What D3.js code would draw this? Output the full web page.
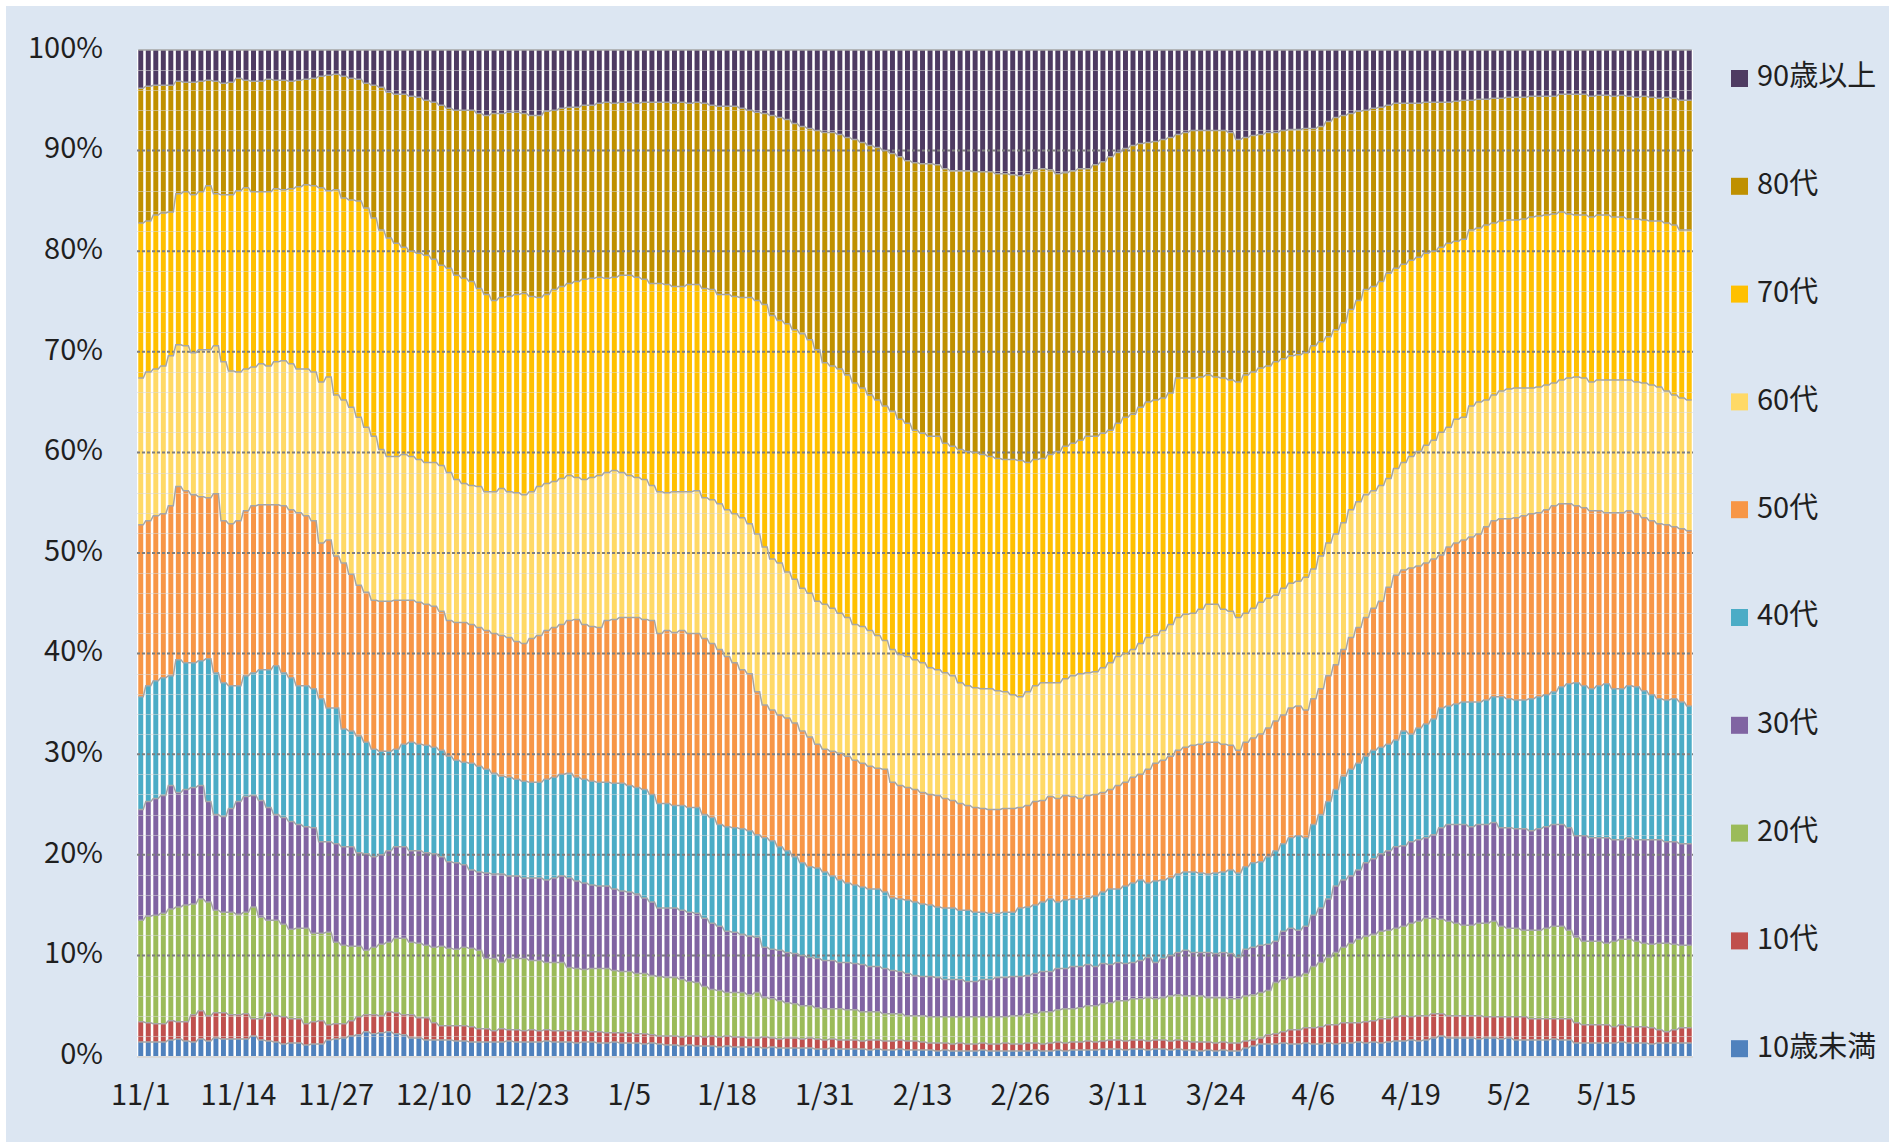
<!DOCTYPE html>
<html lang="ja">
<head>
<meta charset="utf-8">
<script src="https://cdn.jsdelivr.net/npm/d3@7"></script>
<style>
  html, body { margin: 0; padding: 0; background: #fff; }
  svg { display: block; }
  text { font-family: "Noto Sans CJK JP", "Noto Sans", sans-serif; fill: #1f1f1f; }
</style>
</head>
<body>
<div id="chart"></div>
<script>
var ageGroups = ['10歳未満', '10代', '20代', '30代', '40代', '50代', '60代', '70代', '80代', '90歳以上'];
var groupColors = ['#4f81bd', '#c0504d', '#9bbb59', '#8064a2', '#4bacc6', '#f79646', '#ffd966', '#ffc000', '#bf9000', '#4e3b62'];
var firstDay = new Date(2020, 10, 1);
var tickLabels = ['11/1', '11/14', '11/27', '12/10', '12/23', '1/5', '1/18', '1/31', '2/13', '2/26', '3/11', '3/24', '4/6', '4/19', '5/2', '5/15'];

// upper edge of each age band (cumulative %), one value per day
var topUnder10 = [
  1.4,1.4,1.4,1.4,1.6,1.7,1.5,1.4,1.7,1.5,1.8,1.7,1.7,1.7,1.7,2.0,1.6,1.5,1.4,1.2,1.3,1.3,1.1,1.2,1.2,1.6,1.7,1.8,2.0,2.1,2.4,2.2,2.3,2.4,2.2,
  2.1,1.8,1.8,1.6,1.6,1.6,1.6,1.5,1.5,1.4,1.4,1.4,1.4,1.4,1.5,1.4,1.4,1.4,1.4,1.5,1.4,1.4,1.4,1.3,1.4,1.4,1.3,1.3,1.4,1.3,1.3,1.3,1.2,1.3,1.2,
  1.1,1.1,1.0,1.1,1.0,1.0,1.0,0.9,1.0,0.9,0.9,0.9,0.9,0.8,0.9,0.8,0.8,0.8,0.8,0.8,0.7,0.7,0.8,0.7,0.7,0.7,0.7,0.6,0.7,0.6,0.6,0.7,0.6,0.6,
  0.6,0.6,0.5,0.6,0.5,0.5,0.5,0.5,0.6,0.5,0.5,0.5,0.5,0.5,0.5,0.6,0.5,0.5,0.6,0.5,0.6,0.6,0.6,0.6,0.7,0.7,0.7,0.6,0.7,0.7,0.6,0.7,0.7,0.6,0.7,
  0.6,0.6,0.5,0.6,0.5,0.6,0.5,0.5,0.8,1.0,1.2,1.2,1.2,1.3,1.2,1.2,1.3,1.2,1.2,1.3,1.2,1.3,1.3,1.4,1.3,1.4,1.3,1.4,1.5,1.5,1.6,1.5,1.6,1.8,
  2.0,1.8,1.8,1.8,1.8,1.7,1.8,1.8,1.7,1.8,1.6,1.6,1.6,1.6,1.6,1.7,1.6,1.6,1.3,1.3,1.3,1.3,1.3,1.3,1.4,1.3,1.3,1.3,1.2,1.3,1.3,1.3,1.3,1.3
];
var top10s = [
  3.4,3.3,3.2,3.2,3.5,3.4,3.4,4.1,4.5,4.0,4.3,4.3,4.1,4.1,4.2,3.7,3.7,4.3,4.0,3.9,3.7,3.7,3.2,3.4,3.5,3.1,3.2,3.2,3.5,3.9,4.1,4.1,4.0,4.4,4.3,
  4.1,4.1,3.8,3.8,3.3,3.0,3.0,3.0,3.0,2.9,2.7,2.7,2.5,2.7,2.6,2.6,2.5,2.6,2.5,2.6,2.5,2.5,2.5,2.5,2.5,2.4,2.4,2.3,2.3,2.3,2.3,2.2,2.2,2.1,2.0,
  2.0,2.0,1.9,2.0,2.0,1.9,2.0,1.9,2.0,1.9,1.9,1.8,1.8,1.9,1.8,1.7,1.8,1.8,1.7,1.8,1.7,1.6,1.7,1.6,1.6,1.6,1.5,1.6,1.6,1.5,1.5,1.6,1.5,1.5,
  1.4,1.3,1.3,1.3,1.2,1.3,1.2,1.2,1.3,1.2,1.2,1.3,1.2,1.2,1.3,1.3,1.2,1.3,1.4,1.3,1.4,1.4,1.5,1.4,1.5,1.6,1.6,1.5,1.6,1.6,1.5,1.6,1.6,1.5,1.6,
  1.5,1.4,1.4,1.4,1.3,1.4,1.3,1.3,1.5,1.6,1.8,2.1,2.2,2.4,2.6,2.6,2.8,2.8,2.9,3.1,3.1,3.3,3.3,3.3,3.4,3.5,3.7,3.7,3.9,4.0,3.9,4.0,4.0,4.2,
  4.2,4.0,4.0,4.0,4.0,4.0,3.9,3.9,3.9,3.9,3.9,3.9,3.7,3.7,3.7,3.7,3.7,3.7,3.3,3.1,3.1,3.1,3.1,2.9,3.1,2.9,2.9,2.9,2.8,2.6,2.4,2.6,2.8,2.8
];
var top20s = [
  13.5,13.9,14.0,14.2,14.6,14.8,15.0,15.1,15.6,15.3,14.5,14.3,14.3,14.1,14.3,14.8,13.8,13.5,13.5,13.1,12.6,12.7,12.7,12.2,12.2,12.3,11.3,11.0,10.9,10.9,10.5,10.8,11.1,11.3,11.7,
  11.7,11.3,11.2,11.0,10.8,10.9,10.7,10.6,10.8,10.7,10.5,9.7,9.7,9.3,9.7,9.7,9.7,9.5,9.5,9.3,9.3,9.3,8.8,8.7,8.6,8.7,8.7,8.7,8.5,8.4,8.4,8.2,8.2,8.0,7.9,
  7.8,7.8,7.6,7.4,7.3,6.9,6.6,6.5,6.3,6.3,6.3,6.1,6.3,5.8,5.7,5.5,5.3,5.2,5.0,5.0,4.8,4.7,4.7,4.7,4.6,4.6,4.4,4.4,4.4,4.2,4.2,4.2,4.0,4.0,
  4.0,3.9,3.9,3.9,3.9,3.9,3.9,3.9,3.9,3.9,3.9,3.9,4.0,4.0,4.2,4.2,4.4,4.4,4.6,4.7,4.7,4.8,5.0,5.0,5.2,5.3,5.5,5.5,5.7,5.7,5.8,5.7,5.8,6.0,6.1,
  6.0,6.0,6.0,5.8,5.8,5.8,5.7,5.7,6.0,6.1,6.3,6.5,7.3,7.6,7.8,7.9,8.2,8.9,9.3,9.8,10.3,10.8,11.2,11.6,11.9,12.1,12.4,12.5,12.7,12.9,13.2,13.4,13.7,13.7,
  13.6,13.4,13.2,13.0,13.0,13.2,13.2,13.4,12.9,12.7,12.7,12.5,12.5,12.5,12.7,12.9,12.9,12.5,11.8,11.4,11.4,11.4,11.2,11.4,11.6,11.6,11.4,11.2,11.1,11.2,11.2,11.1,11.0,11.0
];
var top30s = [
  24.5,25.3,25.6,25.9,26.9,26.2,26.5,26.7,26.9,25.3,24.0,23.8,24.6,25.3,25.8,25.9,25.4,24.7,24.0,23.7,23.3,23.0,22.8,22.7,21.3,21.3,21.1,20.8,20.8,20.2,20.1,19.8,20.0,20.4,20.8,
  20.8,20.4,20.4,20.2,20.1,19.8,19.3,19.2,19.0,18.5,18.3,18.2,18.1,18.1,17.9,17.9,17.7,17.7,17.7,17.5,17.7,17.9,17.7,17.4,17.2,17.0,16.9,16.9,16.6,16.4,16.3,16.1,15.7,15.3,14.7,
  14.7,14.7,14.5,14.3,14.2,13.7,13.2,12.9,12.4,12.3,12.1,11.9,11.8,10.8,10.6,10.5,10.3,10.2,10.0,9.8,9.7,9.5,9.5,9.3,9.3,9.2,9.1,8.9,8.9,8.7,8.5,8.4,8.2,8.0,
  7.9,7.9,7.8,7.6,7.6,7.6,7.4,7.4,7.6,7.6,7.8,7.8,7.9,7.9,8.0,8.2,8.4,8.4,8.7,8.7,8.9,8.9,9.1,8.9,9.2,9.1,9.3,9.2,9.3,9.5,9.8,9.3,9.7,10.0,10.3,
  10.5,10.3,10.3,10.3,10.2,10.3,10.2,9.8,10.6,10.8,11.0,11.1,11.4,12.4,12.7,12.5,12.9,14.0,14.7,15.6,16.9,17.5,17.9,18.5,19.2,19.6,20.1,20.4,20.8,20.9,21.3,21.5,21.7,22.0,
  22.7,23.0,23.0,23.0,22.8,23.0,23.0,23.2,22.7,22.7,22.6,22.6,22.4,22.6,22.8,23.0,23.0,22.7,21.9,21.9,21.7,21.7,21.7,21.5,21.5,21.7,21.5,21.5,21.5,21.5,21.3,21.3,21.1,21.1
];
var top40s = [
  35.7,36.8,37.3,37.6,37.8,39.4,39.1,39.1,39.3,39.5,38.1,37.1,36.8,36.8,37.8,38.1,38.4,38.4,38.8,38.1,37.6,36.8,36.8,36.5,35.5,34.6,34.6,32.5,32.3,31.8,31.2,30.5,30.3,30.3,30.5,
  31.0,31.2,31.0,30.9,30.7,30.4,29.8,29.4,29.2,29.1,28.8,28.5,28.1,27.8,27.7,27.5,27.3,27.2,27.2,27.5,27.7,28.0,28.1,27.7,27.5,27.3,27.2,27.2,27.1,27.1,26.9,26.7,26.5,26.0,25.1,
  25.1,24.9,24.9,24.7,24.7,24.0,23.7,23.0,22.8,22.7,22.6,22.4,22.0,21.7,21.4,20.8,20.4,19.8,19.2,18.8,18.7,18.3,17.9,17.5,17.2,17.0,16.8,16.6,16.6,16.3,15.7,15.6,15.5,15.3,
  15.1,15.0,14.8,14.7,14.7,14.5,14.5,14.3,14.3,14.2,14.2,14.3,14.3,14.7,14.8,15.0,15.3,15.6,15.3,15.5,15.6,15.6,15.7,15.9,16.3,16.6,16.6,16.9,17.2,17.5,17.2,17.4,17.5,17.7,18.1,
  18.3,18.3,18.2,18.1,18.2,18.3,18.5,18.2,18.8,19.2,19.3,19.8,20.4,21.1,21.7,21.9,21.7,23.0,24.0,25.3,26.5,27.8,28.5,29.1,29.8,30.4,30.7,31.0,31.4,32.3,32.0,32.6,33.0,33.5,
  34.6,34.8,35.0,35.2,35.2,35.2,35.4,35.7,35.7,35.5,35.4,35.4,35.5,35.7,35.9,36.2,36.7,37.0,37.1,36.8,36.5,36.8,37.0,36.5,36.5,36.8,36.7,36.3,35.9,35.5,35.4,35.5,35.2,34.8
];
var top50s = [
  52.8,53.2,53.7,53.9,54.7,56.6,56.2,55.8,55.6,55.5,55.9,53.2,52.9,53.2,54.2,54.7,54.8,54.8,54.8,54.7,54.3,54.0,53.7,53.2,51.0,51.3,49.7,49.0,47.9,46.8,46.1,45.3,45.2,45.2,45.3,
  45.3,45.3,45.1,44.9,44.7,44.2,43.3,43.1,43.1,42.9,42.6,42.3,42.0,41.8,41.6,41.2,41.0,41.5,41.8,42.3,42.6,42.9,43.3,43.4,42.9,42.7,42.6,43.3,43.4,43.6,43.6,43.6,43.4,43.3,42.0,
  42.3,42.1,42.3,42.0,42.0,41.5,41.0,40.4,39.7,39.1,38.4,38.0,36.2,34.9,34.4,33.9,33.6,33.1,32.3,31.7,31.0,30.5,30.3,30.1,29.8,29.4,29.1,28.8,28.6,28.5,27.2,26.9,26.7,26.5,
  26.2,26.0,25.9,25.6,25.4,25.1,24.9,24.7,24.6,24.5,24.5,24.6,24.6,24.7,24.9,25.3,25.4,25.8,25.6,25.9,25.8,25.6,25.9,26.0,26.2,26.5,26.9,27.2,27.7,28.0,28.5,29.1,29.4,29.8,30.4,
  30.7,30.9,31.0,31.2,31.2,31.0,30.9,30.4,31.2,31.6,32.0,32.6,33.3,33.9,34.6,34.8,34.4,35.5,36.5,37.8,38.9,40.4,41.6,42.6,43.6,44.5,45.2,46.6,47.8,48.3,48.5,48.7,49.0,49.4,
  49.8,50.6,51.0,51.3,51.6,51.9,52.6,53.2,53.4,53.4,53.5,53.7,53.9,54.0,54.3,54.7,54.9,54.9,54.7,54.5,54.2,54.2,54.0,54.0,54.0,54.2,53.9,53.5,53.2,52.9,52.8,52.6,52.4,52.2
];
var top60s = [
  67.4,68.0,68.3,68.6,69.6,70.7,70.6,69.9,70.2,70.2,70.6,69.0,68.1,68.0,68.3,68.5,68.8,68.6,69.0,69.1,68.8,68.3,68.3,68.0,67.0,67.5,65.7,65.2,64.5,63.5,62.5,61.6,60.3,59.6,59.6,
  59.8,59.6,59.3,59.0,59.0,58.7,58.0,57.3,56.9,56.7,56.6,56.1,56.1,56.4,56.1,56.0,55.8,56.1,56.6,56.9,57.1,57.4,57.7,57.5,57.3,57.5,57.7,58.0,58.2,58.0,57.7,57.5,57.3,56.7,56.1,
  56.0,56.1,56.1,56.1,56.2,55.5,55.3,54.9,54.3,53.9,53.5,52.9,51.9,50.6,49.4,49.0,48.1,47.4,46.5,46.0,45.2,44.9,44.5,44.0,43.6,42.9,42.7,42.3,41.8,41.3,40.4,39.9,39.7,39.4,
  39.1,38.6,38.4,38.1,37.8,37.1,36.8,36.6,36.5,36.5,36.3,36.2,35.9,35.7,36.2,36.8,37.1,37.1,37.1,37.5,37.8,38.0,38.1,38.2,38.6,39.1,39.7,40.0,40.4,41.0,41.6,41.8,42.3,42.9,43.6,
  43.9,44.0,44.4,44.9,44.9,44.4,44.2,43.6,44.0,44.5,45.1,45.5,45.8,46.5,47.0,47.2,47.6,48.4,49.7,51.0,51.9,53.0,54.3,55.1,55.8,56.2,56.7,57.4,58.4,59.0,59.6,60.1,60.7,61.2,
  62.0,62.5,63.3,63.5,64.6,65.0,65.2,65.7,66.1,66.3,66.4,66.4,66.4,66.5,66.7,66.9,67.2,67.4,67.5,67.4,67.0,67.2,67.2,67.2,67.2,67.2,67.0,66.9,66.7,66.5,66.1,65.7,65.4,65.2
];
var top70s = [
  82.8,83.0,83.6,83.8,83.9,85.7,85.9,85.6,85.9,86.5,85.7,85.6,85.6,86.0,86.3,85.9,85.9,85.9,86.2,86.1,86.2,86.4,86.6,86.5,86.3,86.0,86.1,85.3,85.1,85.0,84.3,83.3,82.1,81.3,80.8,
  80.4,80.0,79.8,79.6,79.2,78.6,78.3,77.6,77.3,77.0,76.3,75.7,75.1,75.4,75.5,75.7,75.8,75.5,75.4,75.7,76.2,76.5,76.8,77.0,77.2,77.3,77.4,77.3,77.4,77.6,77.6,77.4,77.2,76.8,76.8,
  76.7,76.5,76.5,76.7,76.7,76.3,76.2,75.7,75.7,75.5,75.4,75.4,75.1,74.7,73.6,73.1,72.8,72.2,71.8,71.2,70.2,68.9,68.6,68.3,67.7,66.9,66.4,65.7,65.2,64.6,64.1,63.3,62.9,62.2,
  61.9,61.6,61.6,60.9,60.6,60.3,60.1,60.0,59.8,59.6,59.4,59.3,59.3,59.2,59.0,59.3,59.4,59.8,60.1,60.6,60.9,61.2,61.6,61.6,61.9,62.2,62.9,63.5,63.8,64.5,65.0,65.2,65.4,65.9,67.4,
  67.4,67.4,67.5,67.7,67.5,67.4,67.2,67.0,67.7,68.0,68.4,68.6,69.0,69.3,69.6,69.7,69.9,70.6,71.0,71.5,72.2,72.9,74.2,75.1,76.2,76.5,77.0,77.8,78.3,78.7,79.1,79.4,79.8,80.0,
  80.4,80.8,81.0,81.2,82.1,82.3,82.6,82.8,83.0,83.1,83.1,83.2,83.4,83.5,83.6,83.7,83.9,83.7,83.6,83.6,83.4,83.6,83.6,83.4,83.4,83.2,83.2,83.1,83.0,83.0,82.8,82.6,82.1,82.1
];
var top80s = [
  96.2,96.4,96.5,96.5,96.5,96.9,96.8,96.8,96.9,97.0,96.9,96.7,96.8,97.2,97.0,96.9,96.9,97.1,97.0,97.0,96.9,97.0,97.1,97.2,97.4,97.5,97.6,97.4,97.2,97.1,96.7,96.5,96.3,95.8,95.6,
  95.6,95.4,95.3,95.0,94.8,94.5,94.2,94.0,94.0,94.0,93.7,93.5,93.7,93.7,93.8,93.8,93.7,93.5,93.5,93.9,94.0,94.2,94.3,94.3,94.5,94.5,94.7,94.8,94.7,94.8,94.8,94.7,94.8,94.8,94.8,
  94.8,94.7,94.8,94.7,94.8,94.7,94.5,94.4,94.4,94.4,94.2,94.0,93.8,93.7,93.5,93.3,93.1,92.7,92.4,92.2,92.0,91.8,91.8,91.6,91.3,91.1,90.8,90.5,90.3,90.0,89.7,89.4,89.0,88.8,
  88.7,88.7,88.6,88.2,88.0,88.0,88.0,87.9,87.9,87.9,87.7,87.7,87.6,87.5,87.7,88.1,88.2,88.1,87.7,87.8,88.0,88.2,88.2,88.6,88.9,89.4,89.8,90.2,90.5,90.7,90.8,90.9,91.1,91.3,91.6,
  91.8,92.0,92.0,92.0,92.0,92.0,91.8,91.1,91.3,91.5,91.6,91.8,91.8,92.0,92.1,92.1,92.2,92.2,92.4,92.9,93.3,93.5,93.7,93.9,94.0,94.2,94.3,94.5,94.7,94.7,94.7,94.7,94.8,94.8,
  94.8,94.8,94.9,95.0,95.0,95.1,95.1,95.2,95.2,95.3,95.3,95.3,95.4,95.4,95.4,95.4,95.6,95.6,95.6,95.6,95.4,95.5,95.5,95.4,95.5,95.4,95.3,95.4,95.3,95.2,95.3,95.2,95.0,95.0
];

(function() {
  'use strict';

  var width = 1896,
    height = 1142,
    plotLeft = 137,
    plotRight = 1693,
    plotTop = 50,
    plotBottom = 1056,
    gridColor = '#7f7f7f',
    seriesLineColor = '#a6a6a6';

  var dayFormat = d3.timeFormat('%-m/%-d');
  var edges = [topUnder10, top10s, top20s, top30s, top40s, top50s, top60s, top70s, top80s];

  var days = d3.range(topUnder10.length).map(function(i) {
    return dayFormat(d3.timeDay.offset(firstDay, i));
  });

  // turn the band edges back into each group's share of the day
  var rows = days.map(function(day, i) {
    var row = { day: day },
      below = 0;
    ageGroups.forEach(function(group, k) {
      var upper = k < edges.length ? edges[k][i] : 100;
      row[group] = upper - below;
      below = upper;
    });
    return row;
  });

  var series = d3.stack()
    .keys(ageGroups)
    .offset(d3.stackOffsetExpand)(rows);

  var x = d3.scaleBand()
    .domain(days)
    .range([plotLeft, plotRight])
    .paddingInner(0.34)
    .paddingOuter(0.17);

  var y = d3.scaleLinear()
    .domain([0, 1])
    .range([plotBottom, plotTop]);

  var color = d3.scaleOrdinal()
    .domain(ageGroups)
    .range(groupColors);

  var svg = d3.select('#chart')
    .append('svg')
    .attr('width', width)
    .attr('height', height);

  svg.append('rect')
    .attr('x', 6)
    .attr('y', 6)
    .attr('width', 1883)
    .attr('height', height - 6)
    .attr('fill', '#dce6f2');

  svg.append('rect')
    .attr('x', plotLeft)
    .attr('y', plotTop)
    .attr('width', plotRight - plotLeft)
    .attr('height', plotBottom - plotTop)
    .attr('fill', '#ffffff');

  var layer = svg.append('g')
    .selectAll('g')
    .data(series)
    .enter().append('g')
    .attr('fill', function(d) { return color(d.key); });

  layer.selectAll('rect')
    .data(function(d) { return d; })
    .enter().append('rect')
    .attr('x', function(d) { return x(d.data.day); })
    .attr('y', function(d) { return y(d[1]); })
    .attr('width', x.bandwidth())
    .attr('height', function(d) { return y(d[0]) - y(d[1]); });

  var minorTicks = d3.range(0.02, 1, 0.02).filter(function(v) {
    return Math.abs(v * 10 - Math.round(v * 10)) > 0.01;
  });

  svg.append('g')
    .selectAll('line')
    .data(minorTicks)
    .enter().append('line')
    .attr('x1', plotLeft)
    .attr('x2', plotRight)
    .attr('y1', function(d) { return Math.round(y(d)) + 0.5; })
    .attr('y2', function(d) { return Math.round(y(d)) + 0.5; })
    .attr('stroke', '#d9d9d9')
    .attr('stroke-opacity', 0.55)
    .attr('stroke-width', 1);

  svg.append('g')
    .selectAll('line')
    .data(d3.range(1, 10).map(function(v) { return v / 10; }))
    .enter().append('line')
    .attr('x1', plotLeft)
    .attr('x2', plotRight)
    .attr('y1', function(d) { return y(d); })
    .attr('y2', function(d) { return y(d); })
    .attr('stroke', gridColor)
    .attr('stroke-width', 2)
    .attr('stroke-dasharray', '3,2');

  // series lines joining the top of every bar to the next one
  var seriesLine = function(s) {
    var pts = [];
    s.forEach(function(d) {
      var x0 = x(d.data.day);
      pts.push([x0, y(d[1])]);
      pts.push([x0 + x.bandwidth(), y(d[1])]);
    });
    return d3.line()(pts);
  };

  svg.append('g')
    .selectAll('path')
    .data(series)
    .enter().append('path')
    .attr('d', seriesLine)
    .attr('fill', 'none')
    .attr('stroke', seriesLineColor)
    .attr('stroke-width', 1.5);

  svg.append('line')
    .attr('x1', plotLeft)
    .attr('x2', plotRight)
    .attr('y1', plotBottom + 1)
    .attr('y2', plotBottom + 1)
    .attr('stroke', '#d9d9d9')
    .attr('stroke-width', 2);

  var yAxis = svg.append('g')
    .attr('transform', 'translate(' + plotLeft + ',0)')
    .call(d3.axisLeft(y)
      .tickValues(d3.range(0, 11).map(function(v) { return v / 10; }))
      .tickFormat(d3.format('.0%'))
      .tickSize(0)
      .tickPadding(34));
  yAxis.select('.domain').remove();
  yAxis.selectAll('text')
    .attr('dy', '0.25em')
    .style('font-size', '29px')
    .style('font-family', '"Noto Sans CJK JP", sans-serif')
    .attr('fill', '#1f1f1f');

  var xAxis = svg.append('g')
    .attr('transform', 'translate(0,' + plotBottom + ')')
    .call(d3.axisBottom(x)
      .tickValues(tickLabels)
      .tickSize(0)
      .tickPadding(28));
  xAxis.select('.domain').remove();
  xAxis.selectAll('text')
    .style('font-size', '29px')
    .style('font-family', '"Noto Sans CJK JP", sans-serif')
    .attr('fill', '#1f1f1f');

  var legend = svg.append('g')
    .selectAll('g')
    .data(ageGroups.slice().reverse())
    .enter().append('g')
    .attr('transform', function(d, i) {
      return 'translate(1731,' + (78.5 + i * 107.8) + ')';
    });

  legend.append('rect')
    .attr('x', 0)
    .attr('y', -8.5)
    .attr('width', 17)
    .attr('height', 17)
    .attr('fill', function(d) { return color(d); });

  legend.append('text')
    .attr('x', 26)
    .attr('dy', '0.27em')
    .style('font-size', '29px')
    .text(function(d) { return d; });
})();
</script>
</body>
</html>
